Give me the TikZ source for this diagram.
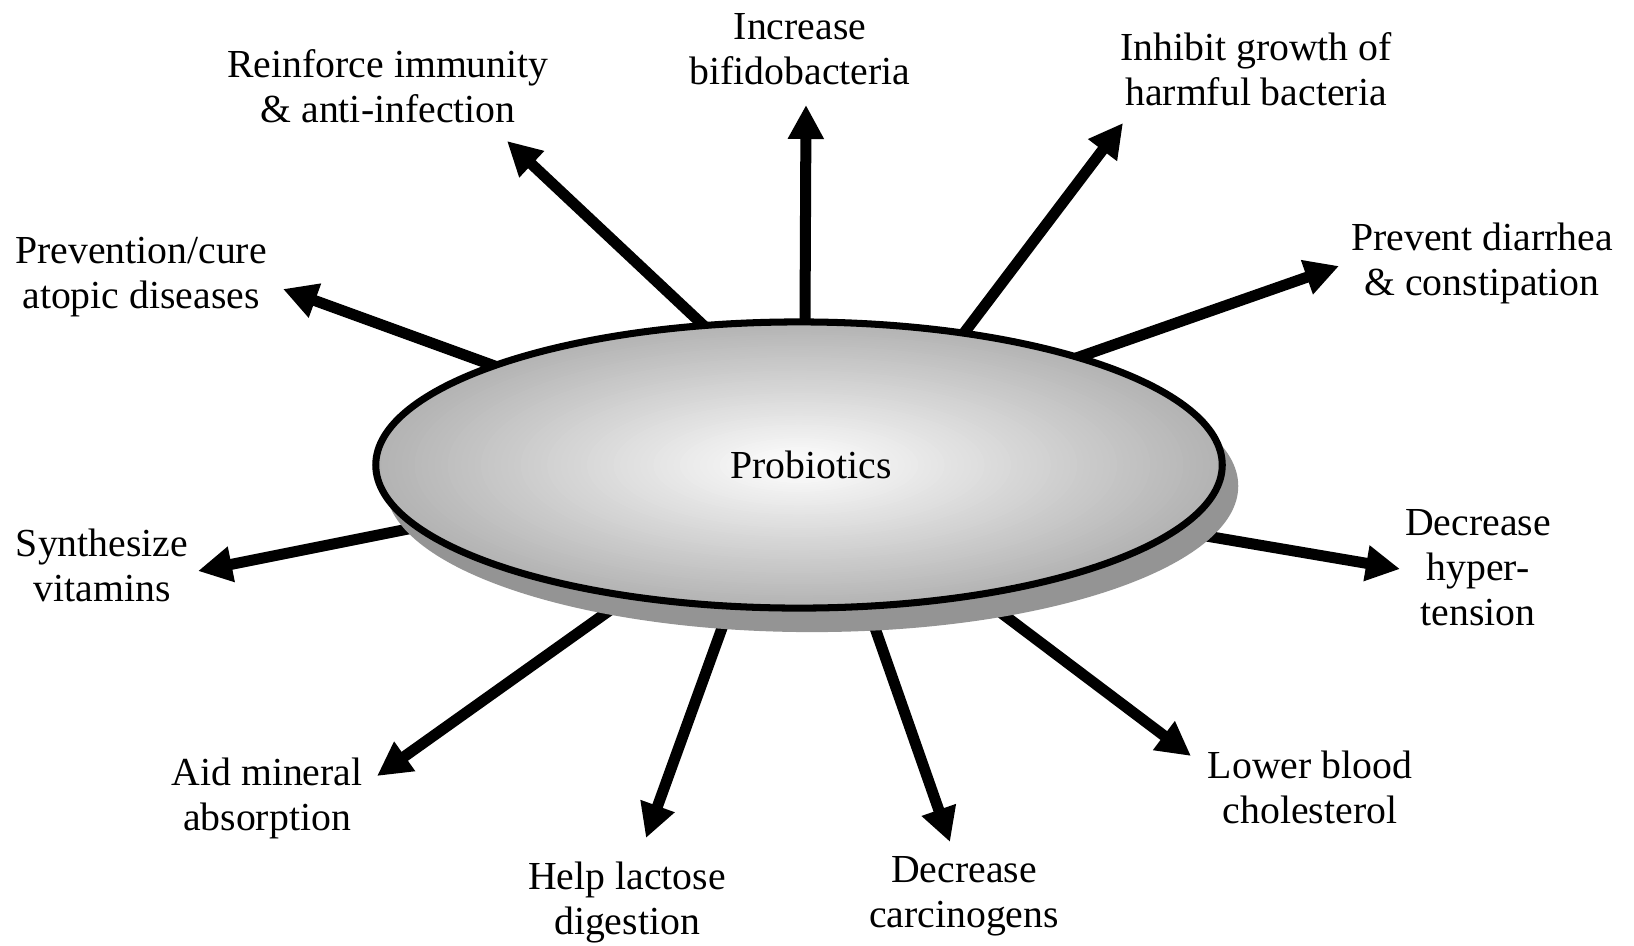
\documentclass[tikz,border=0pt]{standalone}
\usepackage{fontspec}
\setmainfont{Liberation Serif}
\usetikzlibrary{arrows.meta,shapes.geometric,calc}
\tikzset{
  arr/.style={line width=0.11cm, -{Triangle[length=0.34cm,width=0.34cm]}, shorten <=-0.7cm},
  lbl/.style={align=center, inner sep=0pt, font=\fontsize{11.3}{12.8}\selectfont},
  probell/.style={ellipse, draw=black, line width=2pt, minimum width=8.46cm, minimum height=2.86cm, inner sep=0pt, font=\fontsize{11.3}{12.8}\selectfont},
  shadowc/.style={fill=black!42}
}
\begin{document}
\begin{tikzpicture}[x=0.01cm,y=-0.01cm]
\useasboundingbox (0,0) rectangle (1634,945);
% centre
\coordinate (c) at (799,465);
% arrow bases (on the ellipse / shadow edge) and tips
\coordinate (s1) at (805,321);  \coordinate (t1) at (806,105);
\coordinate (s2) at (703,325);  \coordinate (t2) at (507,141);
\coordinate (s3) at (492,365);  \coordinate (t3) at (283,289);
\coordinate (s4) at (964,333);  \coordinate (t4) at (1123,123);
\coordinate (s5) at (1079,357); \coordinate (t5) at (1339,266);
\coordinate (s6) at (408,529);  \coordinate (t6) at (198,571);
\coordinate (s7) at (1212,537); \coordinate (t7) at (1400,569);
\coordinate (s8) at (606,613);  \coordinate (t8) at (377,776);
\coordinate (s9) at (722,628);  \coordinate (t9) at (646,838);
\coordinate (s10) at (875,628); \coordinate (t10) at (950,842);
\coordinate (s11) at (1004,615);\coordinate (t11) at (1191,756);
% arrows (drawn behind the ellipse)
\foreach \i in {1,...,11} { \draw[arr] (s\i) -- (t\i); }
% shadow
\fill[shadowc] ([shift={(13,21)}]c) ellipse [x radius=4.26cm, y radius=1.46cm];
% elliptical gradient fill (white centre to grey edge)
\foreach \k in {0,...,63} {
  \pgfmathsetmacro\f{1-\k/64}
  \pgfmathsetmacro\g{30*\f}
  \pgfmathsetmacro\rx{\f*4.24}
  \pgfmathsetmacro\ry{\f*1.44}
  \fill[black!\g] (c) ellipse [x radius=\rx cm, y radius=\ry cm];
}
% ellipse outline
\node[probell] (P) at (c) {\hspace*{0.24cm}Probiotics};
% labels
\node[lbl] (inc) at (800,49) {Increase\\bifidobacteria};
\node[lbl] (rein) at (388,86) {Reinforce immunity\\\& anti-infection};
\node[lbl] (inh) at (1256,69) {Inhibit growth of\\harmful bacteria};
\node[lbl] (prev) at (141,277) {Prevention/cure\\atopic diseases};
\node[lbl] (diar) at (1482,263) {Prevent diarrhea\\\& constipation};
\node[lbl] (syn) at (102,565) {Synthesize\\vitamins};
\node[lbl] (hyp) at (1478,568) {Decrease\\hyper-\\tension};
\node[lbl] (aid) at (267,798) {Aid mineral\\absorption};
\node[lbl] (lac) at (627,902) {Help lactose\\digestion};
\node[lbl] (car) at (964,896) {Decrease\\carcinogens};
\node[lbl] (low) at (1310,787) {Lower blood\\cholesterol};
\end{tikzpicture}
\end{document}
